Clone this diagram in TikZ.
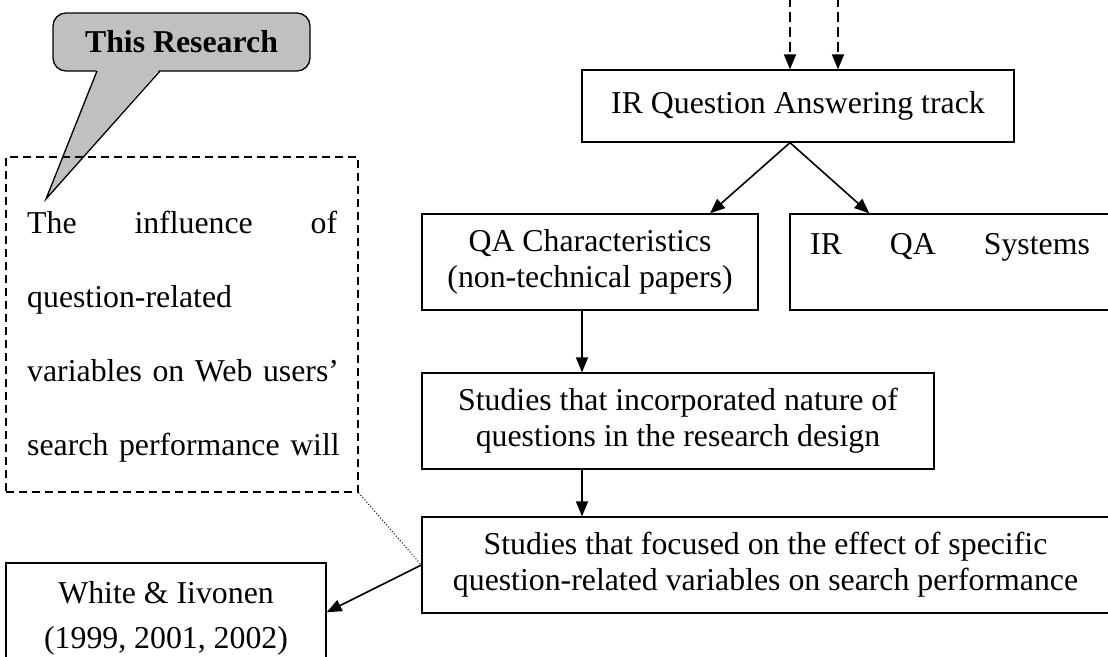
\documentclass[tikz,border=0pt]{standalone}
\usepackage{fontspec}
\setmainfont{Liberation Serif}
\usetikzlibrary{arrows.meta}
\newcommand\fsz{\fontsize{31.8pt}{36pt}\selectfont}
\definecolor{cgray}{RGB}{192,192,192}
\begin{document}
\begin{tikzpicture}[x=1pt,y=-1pt,
  box/.style={draw, line width=1.3pt, inner sep=0pt, align=center, font=\fsz},
  arr/.style={line width=1.6pt, -{Triangle[length=15pt,width=12pt]}},
  darr/.style={arr, dash pattern=on 10pt off 5pt},
  lbl/.style={inner sep=0pt, font=\fsz}]
\useasboundingbox (0,0) rectangle (1108,656);
\fill[white] (0,0) rectangle (1108,656);
\clip (0,0) rectangle (1108,656);

% callout
\node[box, rounded corners=13pt, fill=cgray, minimum width=257pt, minimum height=58pt, font=\fsz\bfseries] (callout) at (181.5,42) {This Research};
\fill[cgray] (97,69) -- (46,199) -- (160,69) -- cycle;
\draw[line width=1.3pt, line join=miter] (97,71) -- (46,199) -- (160,71);

% dashed research box
\node[draw, line width=1.3pt, dash pattern=on 8pt off 5pt, inner sep=0pt, minimum width=352pt, minimum height=335pt] (research) at (182,324.5) {};
\node[lbl, anchor=base west, text width=310pt, align=left, font=\fontsize{31.8pt}{74pt}\selectfont] (rtext) at (27,233)
 {\makebox[310pt][l]{The\hfill influence\hfill of}\\
  \makebox[310pt][l]{question-related}\\
  \makebox[310pt][l]{variables on Web users'}\\
  \makebox[310pt][l]{search performance will}};

% right column
\node[box, minimum width=432pt, minimum height=72pt] (ir) at (798,106) {IR Question Answering track};
\node[box, minimum width=336pt, minimum height=96pt] (qac) at (590,262) {QA Characteristics\\(non-technical papers)};
\node[box, minimum width=350pt, minimum height=96pt] (sys) at (965,262) {};
\node[lbl, anchor=base west] (systxt) at (810,254) {IR\hspace{48pt}QA\hspace{48pt}Systems};
\node[box, minimum width=512pt, minimum height=96pt] (inc) at (678,421) {Studies that incorporated nature of\\questions in the research design};
\node[box, minimum width=687pt, minimum height=96pt] (foc) at (765.5,565) {Studies that focused on the effect of specific\\question-related variables on search performance};
\node[box, minimum width=320pt, minimum height=110.5pt, font=\fontsize{31.8pt}{45pt}\selectfont] (white) at (166,618.25) {White \& Iivonen\\(1999, 2001, 2002)};

% connectors
\coordinate (d1) at (790,-3);
\coordinate (d2) at (838,-3);
\draw[darr] (d1) -- (d1 |- ir.north);
\draw[darr] (d2) -- (d2 |- ir.north);
\draw[arr] ([xshift=-8pt]ir.south) -- ([xshift=120pt]qac.north);
\draw[arr] ([xshift=-8pt]ir.south) -- ([xshift=80pt]sys.north west);
\draw[arr] ([xshift=-8pt]qac.south) -- ([xshift=-8pt]qac.south |- inc.north);
\draw[arr] ([xshift=-96pt]inc.south) -- ([xshift=-96pt]inc.south |- foc.north);
\draw[arr] (foc.west) -- ([yshift=6pt]white.east);
\draw[line width=1pt, dash pattern=on 1pt off 2pt] (research.south east) -- (foc.west);
\end{tikzpicture}
\end{document}
